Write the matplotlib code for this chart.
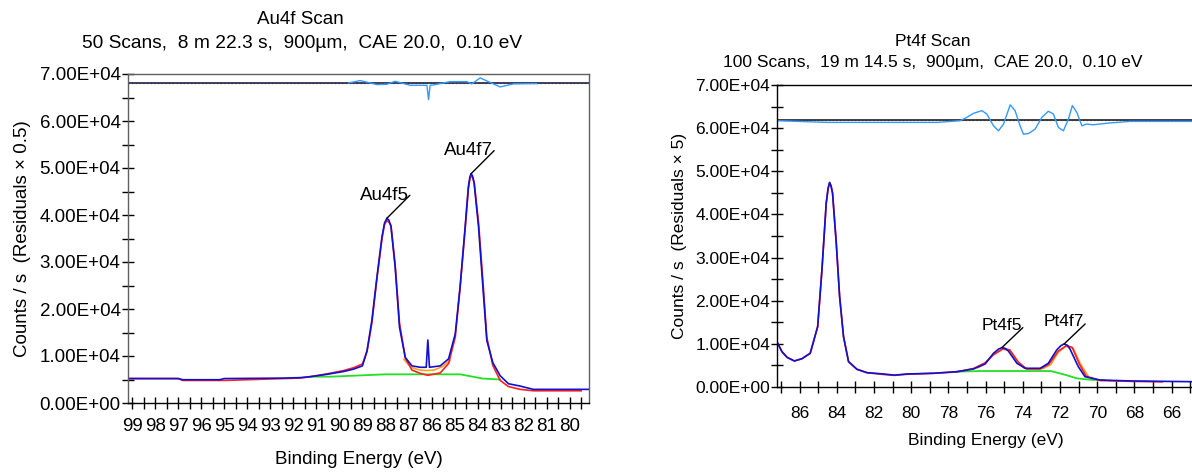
import numpy as np
import matplotlib
matplotlib.use("Agg")
import matplotlib.pyplot as plt
from matplotlib.ticker import MultipleLocator, FuncFormatter

plt.rcParams['font.family'] = ['Liberation Sans', 'DejaVu Sans']

# ---------------- Au4f scan (left) ----------------
au_be = [99.2, 97.0, 96.8, 96.0, 95.2, 95.0, 92.4, 91.7, 91.26, 90.54, 89.82, 89.39,
         89.0, 88.8, 88.59, 88.37, 88.15, 88.04, 87.94, 87.85, 87.76, 87.58, 87.39,
         87.14, 86.85, 86.49, 86.23, 86.16, 86.09, 85.62, 85.26, 84.97, 84.76, 84.54,
         84.40, 84.33, 84.28, 84.22, 84.15, 83.96, 83.77, 83.60, 83.34, 83.02, 82.66,
         82.15, 81.58, 79.15]
au_counts = [5200, 5200, 4950, 4950, 4950, 5200, 5300, 5400, 5600, 6100, 6700, 7200,
             7900, 11100, 17600, 26800, 35400, 38300, 39300, 38900, 37500, 29000, 16100,
             9700, 7900, 7600, 7600, 13400, 7600, 7900, 9400, 14700, 24700, 37500,
             46100, 48200, 48800, 48300, 46800, 37500, 24700, 13300, 8600, 5800, 4100,
             3600, 2900, 2900]

au_fit_be = [99.2, 97.0, 96.8, 95.0, 92.4, 91.7, 91.26, 90.54, 89.82, 89.39, 89.0, 88.8,
             88.59, 88.37, 88.15, 88.04, 87.94, 87.85, 87.76, 87.58, 87.39, 87.14, 86.85,
             86.49, 86.16, 85.62, 85.26, 84.97, 84.76, 84.54, 84.40, 84.33, 84.28, 84.22,
             84.15, 83.96, 83.77, 83.60, 83.34, 83.02, 82.66, 82.15, 81.58, 80.2, 79.5]
au_fit = [5200, 5200, 4800, 4800, 5200, 5300, 5600, 6200, 6900, 7500, 8300, 11000,
          17000, 26500, 35000, 38000, 38800, 38500, 37800, 29500, 17000, 9600, 7000,
          6300, 5900, 6400, 8400, 14000, 24500, 37000, 45500, 47800, 48300, 48000,
          47000, 38500, 26000, 14000, 8000, 4800, 3500, 2900, 2600, 2600, 2600]

au_comp_be = [87.2, 86.9, 86.5, 86.2, 85.9, 85.5, 85.2]
au_comp = [9300, 7600, 7000, 6900, 7000, 7800, 9100]

au_bg_be = [91.26, 90.4, 88.0, 84.76, 83.77, 83.02]
au_bg = [5600, 5600, 6100, 6100, 5200, 5000]

au_res_base = 68100
au_res_be = [89.60, 89.10, 88.37, 87.94, 87.58, 86.93, 86.35, 86.20, 86.13, 86.06,
             85.92, 85.19, 84.47, 84.25, 83.89, 83.02, 82.44, 81.43]
au_res = [68100, 68600, 67750, 67820, 68450, 67600, 67600, 67600, 64550, 67600,
          67670, 68380, 68380, 67900, 69170, 67250, 67900, 67960]

# ---------------- Pt4f scan (right) ----------------
pt_be = [87.18, 86.95, 86.68, 86.28, 85.87, 85.43, 85.03, 84.80, 84.57, 84.47, 84.39,
         84.31, 84.23, 84.03, 83.85, 83.64, 83.37, 82.92, 82.38, 81.49, 80.9, 80.23,
         78.80, 77.55, 76.65, 76.03, 75.58, 75.30, 75.13, 74.95, 74.78, 74.32, 73.88,
         73.07, 72.63, 72.18, 71.95, 71.78, 71.62, 71.46, 71.02, 70.66, 69.85, 68.06,
         64.91]
pt_counts = [10140, 8190, 6890, 6030, 6570, 7820, 13990, 27150, 42620, 46000, 47400,
             46600, 44940, 33340, 20950, 11670, 5870, 4110, 3320, 3020, 2750, 3020,
             3180, 3550, 4180, 5340, 7820, 8800, 9120, 8950, 8350, 5500, 4340,
             4340, 5500, 8580, 9600, 9980, 9700, 8750, 4710, 2390, 1620, 1390,
             1230]

pt_fit_be = [87.18, 86.95, 86.68, 86.28, 85.87, 85.43, 85.03, 84.80, 84.57, 84.47, 84.39,
             84.31, 84.23, 84.03, 83.85, 83.64, 83.37, 82.92, 82.38, 81.49, 80.9, 80.23,
             78.80, 77.55, 76.65, 76.03, 75.58, 75.05, 74.70, 74.25, 73.80, 73.07, 72.60,
             72.10, 71.65, 71.35, 70.95, 70.60, 69.85, 68.06, 66.5]
pt_fit = [10140, 8190, 6890, 6030, 6570, 7820, 13990, 27150, 42620, 46000, 47400,
          46600, 44940, 33340, 20950, 11670, 5870, 4110, 3320, 2900, 2700, 2950,
          3180, 3500, 4300, 5600, 7500, 8900, 8600, 5800, 4200, 4200, 5300,
          8300, 9600, 9200, 5200, 2500, 1500, 1300, 1200]

pt_comp_be = [76.4, 76.0, 75.6, 75.1, 74.7, 74.3, 73.9, 73.4, 72.9, 72.5, 72.1, 71.7,
              71.3, 70.9, 70.5]
pt_comp = [4500, 5500, 7400, 8800, 8400, 5900, 4300, 4000, 4300, 5200, 8000, 9500,
           9000, 5300, 2600]

pt_bg_be = [77.55, 76.3, 72.5, 71.7, 71.1, 70.3, 69.6]
pt_bg = [3550, 3700, 3700, 2800, 2000, 1650, 1600]

pt_res_base = 61900
pt_res_be = [87.18, 84.5, 78.6, 77.37, 77.01, 76.65, 76.2, 75.94, 75.58, 75.31, 75.04,
             74.68, 74.42, 74.15, 73.97, 73.70, 73.34, 72.98, 72.63, 72.36, 72.09, 71.82,
             71.55, 71.34, 71.1, 70.83, 70.57, 70.21, 69.4, 68.24, 64.91]
pt_res = [61720, 61330, 61330, 61720, 62500, 63440, 64060, 63280, 60550, 59380, 60940,
          65390, 64060, 60550, 58590, 58750, 59770, 62500, 63910, 63280, 60160, 59380,
          62110, 65230, 63670, 60550, 60940, 60780, 61170, 61560, 61560]

W, H = 1192, 472
fig = plt.figure(figsize=(W / 100, H / 100), dpi=100)


def sci(v, pos):
    return "%.2E" % v


def setup(ax, xlim, major, minor, fs, spine_col, xpad):
    ax.set_xlim(*xlim)
    ax.set_ylim(0, 70000)
    ax.xaxis.set_major_locator(MultipleLocator(major))
    ax.xaxis.set_minor_locator(MultipleLocator(minor))
    ax.yaxis.set_major_locator(MultipleLocator(10000))
    ax.yaxis.set_minor_locator(MultipleLocator(5000))
    ax.yaxis.set_major_formatter(FuncFormatter(sci))
    ax.xaxis.set_major_formatter(FuncFormatter(lambda v, p: "%d" % round(v)))
    ax.tick_params(which='both', direction='inout', length=8, width=1, colors='black',
                   labelsize=fs)
    ax.tick_params(axis='x', which='both', pad=xpad)
    ax.tick_params(axis='y', which='both', pad=1)
    for s in ax.spines.values():
        s.set_color(spine_col)
        s.set_linewidth(1)
    ax.spines['bottom'].set_color('black')


# left panel
ax1 = fig.add_axes([127.5 / W, (H - 403) / H, (589.3 - 127.5) / W, (403 - 74) / H])
setup(ax1, (99.2, 79.15), 1, 0.5, 13.5, '#606060', 7)
ax1.axhline(au_res_base - 120, color='#999999', lw=1, ls=':')
ax1.axhline(au_res_base, color='#202040', lw=1.2)
ax1.plot(au_res_be, au_res, color='#3399ff', lw=1)
ax1.plot(au_bg_be, au_bg, color='#22e022', lw=1.3)
ax1.plot(au_comp_be, au_comp, color='#ffa020', lw=1.2)
ax1.plot(au_fit_be, au_fit, color='#ff2020', lw=1.2)
ax1.plot(au_be, au_counts, color='#1010d0', lw=1.2)
ax1.set_xlabel("Binding Energy (eV)", fontsize=13.5, labelpad=11)
ax1.set_ylabel("Counts / s  (Residuals \u00d7 0.5)", fontsize=13.5, labelpad=6)
fig.text(300 / W, 1 - 20 / H, "Au4f Scan", ha='center', va='center', fontsize=13.5)
fig.text(302 / W, 1 - 44 / H, "50 Scans,  8 m 22.3 s,  900\u00b5m,  CAE 20.0,  0.10 eV",
         ha='center', va='center', fontsize=13.8)

for lab, pk in (("Au4f5", (87.94, 39300)), ("Au4f7", (84.28, 48800))):
    ax1.annotate("", xy=pk, xytext=(23, 23), textcoords='offset pixels',
                 arrowprops=dict(arrowstyle='-', color='black', lw=1,
                                 shrinkA=0, shrinkB=0))
    ax1.annotate(lab, xy=pk, xytext=(22, 23), textcoords='offset pixels',
                 ha='right', va='center', fontsize=13.5)

# right panel
ax2 = fig.add_axes([777.3 / W, (H - 387) / H, (W + 2 - 777.3) / W, (387 - 85) / H])
setup(ax2, (87.2, 64.8), 2, 1, 12.5, 'black', 10)
ax2.axhline(pt_res_base - 120, color='#999999', lw=1, ls=':')
ax2.axhline(pt_res_base, color='#202020', lw=1.2)
ax2.plot(pt_res_be, pt_res, color='#3399ff', lw=1)
ax2.plot(pt_bg_be, pt_bg, color='#22e022', lw=1.3)
ax2.plot(pt_comp_be, pt_comp, color='#ffa020', lw=1.2)
ax2.plot(pt_fit_be, pt_fit, color='#ff2020', lw=1.2)
ax2.plot(pt_be, pt_counts, color='#1010d0', lw=1.2)
ax2.set_xlabel("Binding Energy (eV)", fontsize=12.5, labelpad=8)
ax2.set_ylabel("Counts / s  (Residuals \u00d7 5)", fontsize=12.5, labelpad=6)
fig.text(933 / W, 1 - 42 / H, "Pt4f Scan", ha='center', va='center', fontsize=12.5)
fig.text(933 / W, 1 - 62 / H, "100 Scans,  19 m 14.5 s,  900\u00b5m,  CAE 20.0,  0.10 eV",
         ha='center', va='center', fontsize=12.5)

for lab, pk in (("Pt4f5", (75.13, 9120)), ("Pt4f7", (71.78, 9980))):
    ax2.annotate("", xy=pk, xytext=(21, 20), textcoords='offset pixels',
                 arrowprops=dict(arrowstyle='-', color='black', lw=1,
                                 shrinkA=0, shrinkB=0))
    ax2.annotate(lab, xy=pk, xytext=(20, 22), textcoords='offset pixels',
                 ha='right', va='center', fontsize=12.5)

fig.savefig("out.png", dpi=100)
